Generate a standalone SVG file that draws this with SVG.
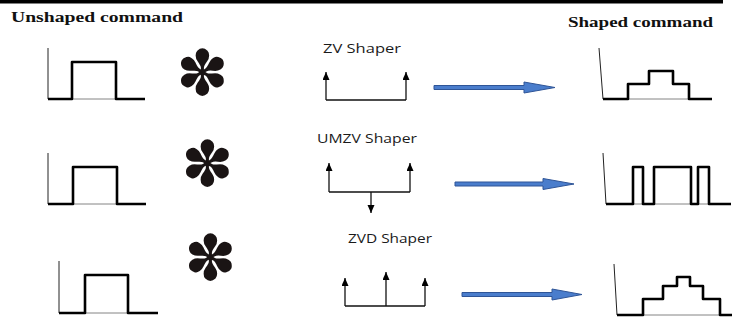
<svg xmlns="http://www.w3.org/2000/svg" width="733" height="321" viewBox="0 0 733 321">
<style>
.title{font-family:"Liberation Serif","Times New Roman",serif;font-weight:bold;font-size:15px;fill:#111}
.lbl{font-family:"Open Sans","Noto Sans",sans-serif;font-size:12.5px;fill:#1a1a1a}
.ast{font-family:"DejaVu Sans",sans-serif;font-size:63px;fill:#1a1414}
.axis{fill:none;stroke:#222;stroke-width:1}
.base{fill:none;stroke:#666;stroke-width:0.8}
.sig{fill:none;stroke:#000;stroke-width:2.6;stroke-linejoin:round}
.imp{fill:none;stroke:#111;stroke-width:1.3}
.blue{fill:#4a7dcc;stroke:#2f5597;stroke-width:1}
</style>
<defs>
<marker id="ah" markerUnits="userSpaceOnUse" markerWidth="8" markerHeight="9" refX="8" refY="3.5" orient="auto">
<path d="M0,0 L8,3.5 L0,7 Z" fill="#000"/>
</marker>
</defs>
<rect id="topline" x="0" y="0" width="723" height="3.5" fill="#000"/>
<g id="unshaped-title"><text class="title" x="11" y="22" textLength="172" lengthAdjust="spacingAndGlyphs">Unshaped command</text></g>
<g id="shaped-title"><text class="title" x="568" y="27" textLength="145" lengthAdjust="spacingAndGlyphs">Shaped command</text></g>

<g id="input1">
<path class="axis" d="M48,48 V99"/>
<path class="base" d="M72,99 H116"/>
<path class="sig" d="M48,99 H72 V62 H116 V99 H145"/>
</g>
<g id="input2">
<path class="axis" d="M48,153 V204"/>
<path class="base" d="M73,204 H117"/>
<path class="sig" d="M48,204 H73 V167 H117 V204 H146"/>
</g>
<g id="input3">
<path class="axis" d="M59,261 V313"/>
<path class="base" d="M85,313 H128"/>
<path class="sig" d="M59,313 H85 V275 H128 V313 H158"/>
</g>

<g id="conv1"><text class="ast" x="202.5" y="94.5" text-anchor="middle">✽</text></g>
<g id="conv2"><text class="ast" x="207.5" y="185.5" text-anchor="middle">✽</text></g>
<g id="conv3"><text class="ast" x="210.5" y="279.5" text-anchor="middle">✽</text></g>

<g id="zv-shaper">
<text class="lbl" x="323" y="53" textLength="78" lengthAdjust="spacingAndGlyphs">ZV Shaper</text>
<path class="imp" d="M326,100 H406"/>
<path class="imp" d="M326,100 V72" marker-end="url(#ah)"/>
<path class="imp" d="M406,100 V72" marker-end="url(#ah)"/>
</g>
<g id="umzv-shaper">
<text class="lbl" x="317" y="143" textLength="100" lengthAdjust="spacingAndGlyphs">UMZV Shaper</text>
<path class="imp" d="M329,192 H410"/>
<path class="imp" d="M329,192 V163" marker-end="url(#ah)"/>
<path class="imp" d="M410,192 V163" marker-end="url(#ah)"/>
<path class="imp" d="M371,192 V213" marker-end="url(#ah)"/>
</g>
<g id="zvd-shaper">
<text class="lbl" x="348" y="243" textLength="84" lengthAdjust="spacingAndGlyphs">ZVD Shaper</text>
<path class="imp" d="M345,306 H425"/>
<path class="imp" d="M345,306 V278" marker-end="url(#ah)"/>
<path class="imp" d="M386,306 V272" marker-end="url(#ah)"/>
<path class="imp" d="M425,306 V278" marker-end="url(#ah)"/>
</g>

<g id="connectors">
<path class="blue" d="M434,85.5 H524 V82 L555,87.5 L524,93 V89.5 H434 Z"/>
<path class="blue" d="M455,182 H543 V178.5 L574,184 L543,189.5 V186 H455 Z"/>
<path class="blue" d="M462,292.5 H552 V289 L582,294.5 L552,300 V296.5 H462 Z"/>
</g>

<g id="output1">
<path class="axis" d="M599,48 L603,99"/>
<path class="base" d="M628,99 H689"/>
<path class="sig" d="M603,99 H628 V84 H649 V71 H673 V84 H689 V99 H712"/>
</g>
<g id="output2">
<path class="axis" d="M603,153 L606,204"/>
<path class="base" d="M633,204 H709"/>
<path class="sig" d="M606,204 H633 V167 H643 V204 H654 V167 H691 V204 H698 V167 H709 V204 H731"/>
</g>
<g id="output3">
<path class="axis" d="M614,264 L617,315"/>
<path class="base" d="M643,315 H720"/>
<path class="sig" d="M617,315 H643 V299 H663 V286 H677 V277 H690 V286 H703 V299 H720 V315 H732"/>
</g>
</svg>
